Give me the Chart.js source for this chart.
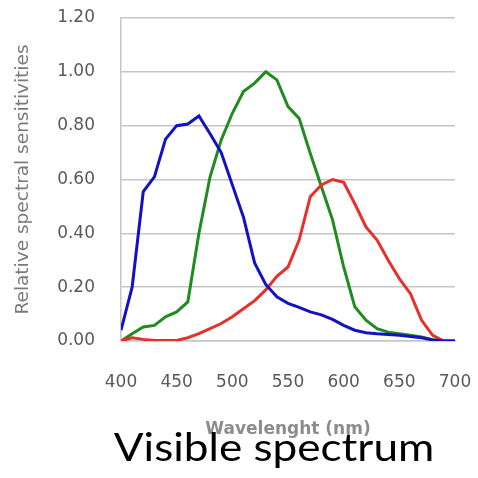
<!DOCTYPE html>
<html><head><meta charset="utf-8">
<script src="https://cdn.jsdelivr.net/npm/chart.js@4"></script>
<style>
html,body{margin:0;padding:0;background:#fff;overflow:hidden;}
#wrap{position:relative;width:478px;height:478px;}
#caption{position:absolute;left:94px;width:360px;top:427px;text-align:center;white-space:nowrap;font-family:Lato,sans-serif;font-size:39px;line-height:1;color:#000;transform:scaleX(1.13);transform-origin:50% 50%;}
</style></head>
<body>
<div id="wrap"><canvas id="c" width="478" height="478"></canvas><div id="caption">Visible spectrum</div></div>
<script>
const wavelengths = [400,410,420,430,440,450,460,470,480,490,500,510,520,530,540,550,560,570,580,590,600,610,620,630,640,650,660,670,680,690,700];
const blueValues  = [0.04,0.20,0.555,0.61,0.75,0.80,0.806,0.836,0.77,0.70,0.58,0.46,0.29,0.21,0.164,0.14,0.125,0.108,0.097,0.08,0.058,0.04,0.031,0.027,0.024,0.021,0.017,0.012,0.004,0.0,0.0];
const greenValues = [0.0,0.027,0.052,0.058,0.09,0.108,0.145,0.40,0.61,0.747,0.846,0.927,0.958,1.00,0.97,0.871,0.827,0.697,0.573,0.45,0.275,0.127,0.077,0.046,0.033,0.027,0.021,0.015,0.005,0.0,0.0];
const redValues   = [0.0,0.012,0.006,0.002,0.002,0.002,0.012,0.027,0.046,0.065,0.09,0.12,0.15,0.19,0.24,0.275,0.375,0.536,0.58,0.60,0.59,0.51,0.424,0.375,0.30,0.232,0.176,0.077,0.021,0.0,0.0];
const xTickValues = [400,450,500,550,600,650,700];
const yTickValues = [0,0.2,0.4,0.6,0.8,1.0,1.2];

const toPts = vals => vals.map((v,i)=>({x:wavelengths[i], y:v}));
const gridColor = '#c6c6c6';
const tickFont = {family:'DejaVu Sans', size:17};

new Chart(document.getElementById('c'), {
  type:'line',
  data:{datasets:[
    {label:'Blue', data:toPts(blueValues), borderColor:'#1212c4', borderWidth:3, pointRadius:0, tension:0},
    {label:'Red', data:toPts(redValues), borderColor:'#e4312b', borderWidth:3, pointRadius:0, tension:0},
    {label:'Green', data:toPts(greenValues), borderColor:'#218a21', borderWidth:3, pointRadius:0, tension:0}
  ]},
  options:{
    responsive:false, animation:false, devicePixelRatio:1,
    layout:{padding:{left:0, top:18, right:23, bottom:0}},
    plugins:{legend:{display:false}, tooltip:{enabled:false}},
    scales:{
      x:{type:'linear', min:400, max:700,
        afterBuildTicks:s=>{s.ticks = xTickValues.map(v=>({value:v}));},
        ticks:{color:'#595959', font:tickFont, padding:3, maxRotation:0, autoSkip:false},
        grid:{display:true, drawOnChartArea:false, drawTicks:true, tickLength:28, tickColor:'rgba(0,0,0,0)'},
        border:{display:true, color:gridColor, width:1.5},
        title:{display:true, text:'Wavelenght (nm)', color:'#8c8c8c', font:{family:'DejaVu Sans', size:17, weight:'bold'}, padding:{top:0,bottom:38}},
        afterFit:s=>{s.height = 137;}
      },
      y:{min:0, max:1.2,
        afterBuildTicks:s=>{s.ticks = yTickValues.map(v=>({value:v}));},
        ticks:{color:'#595959', font:tickFont, padding:3, callback:v=>Number(v).toFixed(2)},
        grid:{color:gridColor, lineWidth:1.5, drawTicks:true, tickLength:23, tickColor:'rgba(0,0,0,0)'},
        border:{display:true, color:gridColor, width:1.5},
        title:{display:true, text:'Relative spectral sensitivities', color:'#7a7a7a', font:{family:'DejaVu Sans', size:18.5}, padding:{top:12,bottom:0}},
        afterFit:s=>{s.width = 121;}
      }
    }
  }
});
</script>
</body></html>
